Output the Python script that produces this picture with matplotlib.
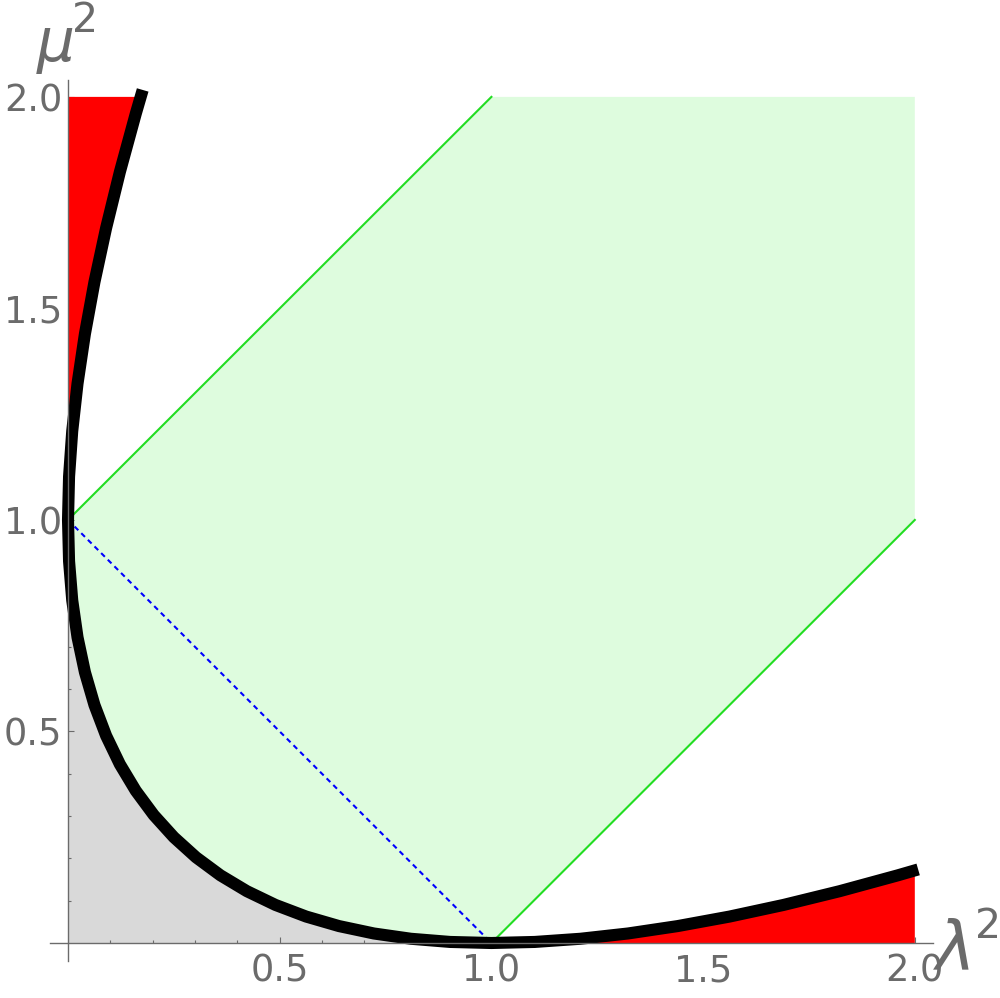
import matplotlib
matplotlib.use("Agg")
import matplotlib.pyplot as plt
from matplotlib.ticker import FixedLocator, FormatStrFormatter

# boundary curve (lambda^2, mu^2)
curve_lam2 = [0.1764, 0.16, 0.1225, 0.09, 0.0625, 0.04, 0.0225, 0.01, 0.0025,
              0.0,
              0.0025, 0.01, 0.0225, 0.04, 0.0625, 0.09, 0.1225, 0.16, 0.2025,
              0.25, 0.3025, 0.36, 0.4225, 0.49, 0.5625, 0.64, 0.7225, 0.81, 0.9025,
              1.0,
              1.1025, 1.21, 1.3225, 1.44, 1.5625, 1.69, 1.8225, 1.96, 2.0079]
curve_mu2 = [2.0164, 1.96, 1.8225, 1.69, 1.5625, 1.44, 1.3225, 1.21, 1.1025,
             1.0,
             0.9025, 0.81, 0.7225, 0.64, 0.5625, 0.49, 0.4225, 0.36, 0.3025,
             0.25, 0.2025, 0.16, 0.1225, 0.09, 0.0625, 0.04, 0.0225, 0.01, 0.0025,
             0.0,
             0.0025, 0.01, 0.0225, 0.04, 0.0625, 0.09, 0.1225, 0.16, 0.1739]
i_top = 9      # index of (0, 1)
i_bottom = 29  # index of (1, 0)

# corners of the allowed (green) band
band_lam2 = [2.0, 2.0, 1.0]
band_mu2 = [1.0, 2.0, 2.0]
# where the curve crosses the plot edges
red_top = (0.1716, 2.0)
red_right = (2.0, 0.1716)

major_ticks = [0.5, 1.0, 1.5, 2.0]
minor_ticks = [0.1, 0.2, 0.3, 0.4, 0.6, 0.7, 0.8, 0.9,
               1.1, 1.2, 1.3, 1.4, 1.6, 1.7, 1.8, 1.9]

fig = plt.figure(figsize=(10, 9.98), dpi=100)
ax = fig.add_axes([0, 0, 1, 1])
ax.set_xlim(-0.1606, 2.2012)
ax.set_ylim(-0.130, 2.229)

# green region
lower_x = curve_lam2[i_top:i_bottom + 1]
lower_y = curve_mu2[i_top:i_bottom + 1]
ax.fill(lower_x + band_lam2, lower_y + band_mu2, color='#defcde', lw=0, zorder=1)

# grey region under the curve
ax.fill([0.0] + lower_x, [0.0] + lower_y, color='#d9d9d9', lw=0, zorder=1)

# red regions
up_x = curve_lam2[1:i_top + 1][::-1]
up_y = curve_mu2[1:i_top + 1][::-1]
ax.fill([0.0] + up_x + [red_top[0]], [2.0] + up_y + [red_top[1]],
        color='red', lw=0, zorder=2)
rt_x = curve_lam2[i_bottom:-1]
rt_y = curve_mu2[i_bottom:-1]
ax.fill(rt_x + [red_right[0], 2.0], rt_y + [red_right[1], 0.0],
        color='red', lw=0, zorder=2)

# band edges and the diagonal
ax.plot([0, 1], [1, 2], color='#22dd22', lw=1.5, zorder=3)
ax.plot([1, 2], [0, 1], color='#22dd22', lw=1.5, zorder=3)
ax.plot([0, 1], [1, 0], color='blue', lw=1.5, ls=(0, (2.5, 2)), zorder=3)

# the curve
ax.plot(curve_lam2, curve_mu2, color='black', lw=8.7, solid_capstyle='butt',
        solid_joinstyle='round', zorder=4)

# Mathematica-like axes through the origin
gray = '#6b6b6b'
for s in ['top', 'right']:
    ax.spines[s].set_visible(False)
ax.spines['left'].set_position(('data', 0))
ax.spines['bottom'].set_position(('data', 0))
ax.spines['left'].set_bounds(-0.043, 2.04)
ax.spines['bottom'].set_bounds(-0.043, 2.042)
for s in ['left', 'bottom']:
    ax.spines[s].set_color(gray)
    ax.spines[s].set_linewidth(1.0)
    ax.spines[s].set_zorder(6)
ax.patch.set_visible(False)

ax.set_xticks(major_ticks)
ax.set_yticks(major_ticks)
ax.xaxis.set_minor_locator(FixedLocator(minor_ticks))
ax.yaxis.set_minor_locator(FixedLocator(minor_ticks))
ax.tick_params(which='both', direction='in', colors=gray, labelcolor=gray,
               labelsize=26.5, width=0.8)
ax.tick_params(which='major', length=4)
ax.tick_params(which='minor', length=2.5)
ax.tick_params(axis='x', pad=7)
ax.tick_params(axis='y', pad=4)
ax.xaxis.set_major_formatter(FormatStrFormatter('%.1f'))
ax.yaxis.set_major_formatter(FormatStrFormatter('%.1f'))

# axis labels: letter plus superscript 2
fig.text(37 / 1000, 1 - 61 / 998, 'μ', fontsize=43, fontstyle='italic',
         color=gray, ha='left', va='baseline')
fig.text(72 / 1000, 1 - 32 / 998, '2', fontsize=29.5, color=gray,
         ha='left', va='baseline')
fig.text(936 / 1000, 1 - 969 / 998, 'λ', fontsize=48, fontstyle='italic',
         color=gray, ha='left', va='baseline')
fig.text(975 / 1000, 1 - 938 / 998, '2', fontsize=29.5, color=gray,
         ha='left', va='baseline')

fig.savefig('out.png', dpi=100)
